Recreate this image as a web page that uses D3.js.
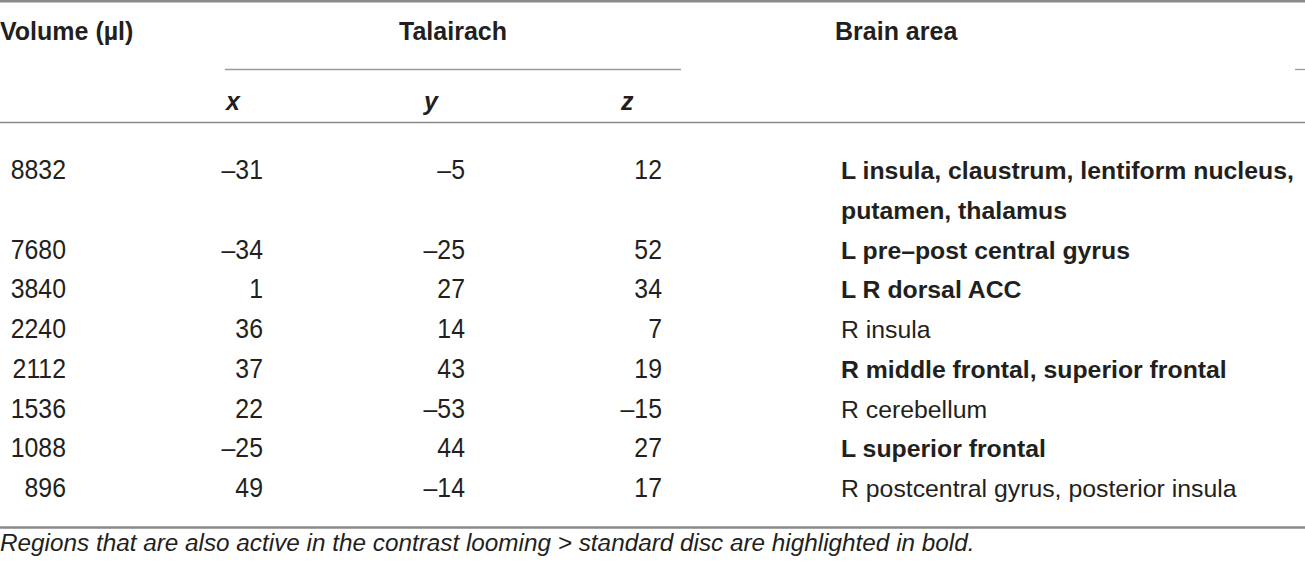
<!DOCTYPE html>
<html>
<head>
<meta charset="utf-8">
<script src="https://cdn.jsdelivr.net/npm/d3@7"></script>
<style>
  body { margin: 0; background: #fff; }
  text { fill: #231f20; font-family: "Liberation Sans", Arial, sans-serif; }
  .head { font-weight: bold; font-size: 25px; }
  .num { font-size: 27px; }
  .area { font-size: 24.8px; }
  .note { font-style: italic; font-size: 24.3px; }
</style>
</head>
<body>
<div id="table"></div>
<script>
const W = 1305, H = 565;

// table contents
const volume = ["8832", "7680", "3840", "2240", "2112", "1536", "1088", "896"];
const tx = ["–31", "–34", "1", "36", "37", "22", "–25", "49"];
const ty = ["–5", "–25", "27", "14", "43", "–53", "44", "–14"];
const tz = ["12", "52", "34", "7", "19", "–15", "27", "17"];
const area = [
  ["L insula, claustrum, lentiform nucleus,", "putamen, thalamus"],
  ["L pre–post central gyrus"],
  ["L R dorsal ACC"],
  ["R insula"],
  ["R middle frontal, superior frontal"],
  ["R cerebellum"],
  ["L superior frontal"],
  ["R postcentral gyrus, posterior insula"]
];
const bold = [true, true, true, false, true, false, true, false];
const subHeads = ["x", "y", "z"];
const footnote = "Regions that are also active in the contrast looming > standard disc are highlighted in bold.";

const svg = d3.select("#table").append("svg")
    .attr("width", W).attr("height", H);

// line index -> baseline; first row takes two lines
let lineIdx = [];
let n = 0;
area.forEach(a => { lineIdx.push(n); n += a.length; });
const y = d3.scaleLinear().domain([0, n - 1]).range([179, 179 + (n - 1) * 39.75]);

// column anchors (right edges for numbers)
const colX = d3.scaleOrdinal()
    .domain(["vol", "x", "y", "z", "area"])
    .range([66, 263, 465, 662, 841]);
// where the italic sub headers start
const subX = d3.scaleOrdinal().domain(subHeads).range([226, 424, 621]);

const rule = (x1, x2, yy, w, c) => svg.append("line")
    .attr("x1", x1).attr("x2", x2).attr("y1", yy).attr("y2", yy)
    .style("stroke", c).style("stroke-width", w);

rule(0, W, 1.2, 2.4, "#8a8a8a");
rule(225, 681, 69.5, 1.3, "#9a9a9a");
rule(1295, W, 69.5, 1.3, "#9a9a9a");
rule(0, W, 122.5, 1.5, "#8a8a8a");
rule(0, W, 527.5, 2.4, "#8a8a8a");

// header
svg.append("text").attr("class", "head").attr("x", 0).attr("y", 40).text("Volume (µl)");
svg.append("text").attr("class", "head").attr("x", 453).attr("y", 40)
    .attr("text-anchor", "middle").text("Talairach");
svg.append("text").attr("class", "head").attr("x", 835).attr("y", 40).text("Brain area");
svg.selectAll(".sub").data(subHeads).enter().append("text")
    .attr("class", "head sub")
    .attr("x", d => subX(d))
    .attr("y", 110)
    .style("font-style", "italic")
    .text(d => d);

// numeric columns, a little condensed
const cols = [["vol", volume], ["x", tx], ["y", ty], ["z", tz]];
cols.forEach(([key, vals]) => {
  svg.selectAll(".c-" + key).data(vals).enter().append("text")
      .attr("class", "num")
      .attr("transform", (d, i) => `translate(${colX(key)},${y(lineIdx[i])}) scale(0.92,1)`)
      .attr("text-anchor", "end")
      .text(d => d);
});

// brain area, may wrap over two lines
area.forEach((lines, i) => {
  svg.selectAll(null).data(lines).enter().append("text")
      .attr("class", "area")
      .attr("x", colX("area"))
      .attr("y", (d, j) => y(lineIdx[i] + j))
      .style("font-weight", bold[i] ? "bold" : "normal")
      .text(d => d);
});

svg.append("text").attr("class", "note").attr("x", 0).attr("y", 551).text(footnote);
</script>
</body>
</html>
